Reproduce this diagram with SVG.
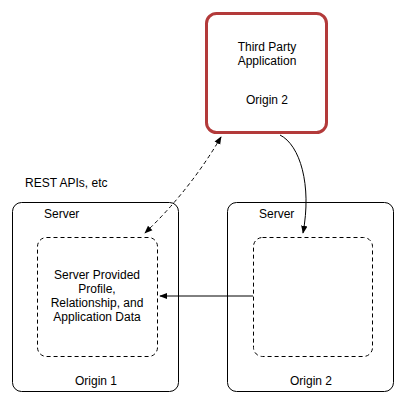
<svg xmlns="http://www.w3.org/2000/svg" width="406" height="403" viewBox="0 0 406 403">
<style>
text{font-family:"Liberation Sans",Arial,sans-serif;font-size:12px;fill:#000}
.c{text-anchor:middle}
.box{fill:#fff;stroke:#000;stroke-width:1}
.dash{fill:#fff;stroke:#000;stroke-width:1;stroke-dasharray:4,3}
.ln{fill:none;stroke:#000;stroke-width:1}
</style>
<defs>
<marker id="ah" viewBox="0 0 10 10" refX="9" refY="5" markerWidth="8" markerHeight="8" markerUnits="userSpaceOnUse" orient="auto-start-reverse">
<path d="M0,1 L10,5 L0,9 Z" fill="#000"/>
</marker>
</defs>
<rect width="406" height="403" fill="#fff"/>
<g id="server1">
<rect class="box" x="12.5" y="202.5" width="166" height="189" rx="9"/>
<text x="44" y="218">Server</text>
<text class="c" x="96" y="385">Origin 1</text>
</g>
<g id="server2">
<rect class="box" x="227.5" y="202.5" width="166" height="189" rx="9"/>
<text x="259" y="218">Server</text>
<text class="c" x="311" y="385">Origin 2</text>
</g>
<g id="data1">
<rect class="dash" x="37.5" y="237.5" width="120" height="119" rx="9"/>
<text class="c" x="97" y="279">Server Provided</text>
<text class="c" x="97" y="293">Profile,</text>
<text class="c" x="97" y="307">Relationship, and</text>
<text class="c" x="97" y="321">Application Data</text>
</g>
<g id="data2">
<rect class="dash" x="253.5" y="237.5" width="119" height="119" rx="9"/>
</g>
<g id="thirdparty">
<rect x="206.5" y="13.5" width="120" height="119" rx="10" fill="#fff" stroke="#b33a3a" stroke-width="3"/>
<text class="c" x="267" y="51">Third Party</text>
<text class="c" x="267" y="65">Application</text>
<text class="c" x="267" y="104">Origin 2</text>
</g>
<g id="label">
<text x="25" y="187">REST APIs, etc</text>
</g>
<g id="connectors">
<path class="ln" d="M253,296 L160,296" marker-end="url(#ah)"/>
<path class="ln" d="M221,137 Q190,190 145,233" stroke-dasharray="4,3" marker-start="url(#ah)" marker-end="url(#ah)"/>
<path class="ln" d="M280,135 C300,145 312,185 303,233" marker-end="url(#ah)"/>
</g>
</svg>
